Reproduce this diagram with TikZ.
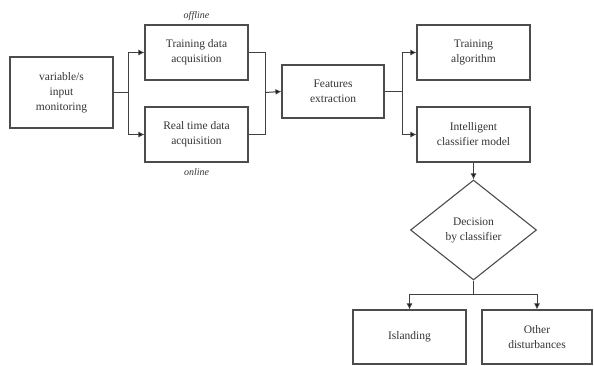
\documentclass[tikz,border=0pt]{standalone}
\usepackage{fontspec}
\setmainfont{Liberation Serif}
\usetikzlibrary{arrows.meta,shapes.geometric}
\begin{document}
\begin{tikzpicture}[x=1pt,y=-1pt,
  blk/.style={draw=black!70,line width=1.1pt,minimum width=103pt,minimum height=55pt,
    inner sep=0pt,align=center,font=\fontsize{11.5}{15}\selectfont,text=black!80},
  dec/.style={draw=black!70,line width=1.1pt,diamond,minimum width=126pt,minimum height=100pt,
    inner sep=0pt,align=center,font=\fontsize{11.5}{15}\selectfont,text=black!80},
  wire/.style={draw=black!75,line width=1pt},
  arr/.style={wire,-{Latex[length=6pt,width=6pt,fill=black]}},
  tag/.style={font=\fontsize{10}{12}\selectfont\itshape,text=black!80}]
\useasboundingbox (0,0) rectangle (594,365);
% blocks
\node[blk,minimum width=103pt,minimum height=71pt] (inp) at (61.5,92.5) {variable/s\\input\\monitoring};
\node[blk] (train) at (196.5,52.5) {Training data\\acquisition};
\node[blk] (real) at (196.5,134.5) {Real time data\\acquisition};
\node[tag] (off) at (196.5,16) {offline};
\node[tag] (on) at (196.5,172) {online};
\node[blk,minimum width=102pt,minimum height=53pt] (feat) at (333,91.5) {Features\\extraction};
\node[blk,minimum width=113pt] (alg) at (473.5,52.5) {Training\\algorithm};
\node[blk,minimum width=113pt] (clf) at (473.5,134.5) {Intelligent\\classifier model};
\node[dec] (dcs) at (473.5,230) {Decision\\by classifier};
\node[blk,minimum width=113pt,minimum height=54pt] (isl) at (409.5,337) {Islanding};
\node[blk,minimum width=110pt,minimum height=54pt] (oth) at (537,337) {Other\\disturbances};
% junction points
\coordinate (s1) at (128,92.5);
\coordinate (m1) at (265,92.5);
\coordinate (s2) at (402,91.5);
\coordinate (s3) at (473.5,294);
% fan out from the input block
\draw[wire] (inp.east) -- (s1);
\draw[arr] (s1) |- (train.west);
\draw[arr] (s1) |- (real.west);
% merge into feature extraction
\draw[wire] (train.east) -| (m1);
\draw[wire] (real.east) -| (m1);
\draw[arr] (m1) -- (feat.west);
% fan out to training and classifier
\draw[wire] (feat.east) -- (s2);
\draw[arr] (s2) |- (alg.west);
\draw[arr] (s2) |- (clf.west);
% classifier to decision and outcomes
\draw[arr] (clf.south) -- (dcs.north);
\draw[wire] (dcs.south) -- (s3);
\draw[arr] (s3) -| (isl.north);
\draw[arr] (s3) -| (oth.north);
\end{tikzpicture}
\end{document}
